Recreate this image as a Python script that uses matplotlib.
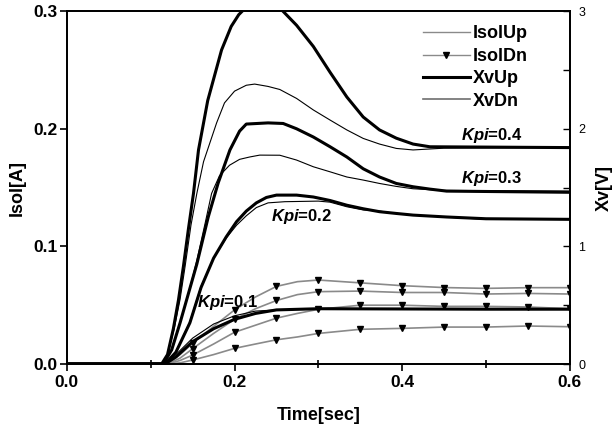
import matplotlib
matplotlib.use("Agg")
import matplotlib.pyplot as plt
from matplotlib.lines import Line2D
from matplotlib.ticker import FixedLocator
from matplotlib.font_manager import FontProperties

plt.rcParams['font.family'] = ['Liberation Sans', 'DejaVu Sans']
plt.rcParams['mathtext.fontset'] = 'custom'
plt.rcParams['mathtext.it'] = 'Liberation Sans:italic:bold'
plt.rcParams['mathtext.rm'] = 'Liberation Sans:bold'

# ---- data ----
# Kpi = 0.4
t_xv04 = [0, 0.113, 0.120, 0.127, 0.133, 0.139, 0.145, 0.151, 0.157, 0.168, 0.1845, 0.196, 0.205, 0.212,
          0.235, 0.255, 0.274, 0.294, 0.314, 0.334, 0.3535, 0.373, 0.393, 0.413, 0.433, 0.6]
v_xv04 = [0, 0, 0.008, 0.030, 0.054, 0.083, 0.115, 0.145, 0.182, 0.224, 0.267, 0.287, 0.297, 0.302,
          0.310, 0.302, 0.288, 0.270, 0.248, 0.227, 0.210, 0.199, 0.192, 0.187, 0.1847, 0.184]
t_is04 = [0, 0.114, 0.120, 0.128, 0.135, 0.141, 0.148, 0.155, 0.163, 0.1786, 0.188, 0.200, 0.214, 0.224,
          0.240, 0.254, 0.274, 0.294, 0.314, 0.334, 0.3535, 0.373, 0.393, 0.413, 0.450, 0.6]
v_is04 = [0, 0, 0.008, 0.030, 0.055, 0.083, 0.118, 0.145, 0.172, 0.205, 0.222, 0.232, 0.237, 0.238,
          0.236, 0.2334, 0.2258, 0.216, 0.2074, 0.199, 0.1918, 0.187, 0.1833, 0.182, 0.1835, 0.184]
# Kpi = 0.3
t_xv03 = [0, 0.115, 0.125, 0.135, 0.145, 0.155, 0.1686, 0.1805, 0.1945, 0.206, 0.214, 0.240, 0.258,
          0.274, 0.294, 0.314, 0.334, 0.3535, 0.373, 0.393, 0.413, 0.433, 0.453, 0.6]
v_xv03 = [0, 0, 0.012, 0.035, 0.060, 0.085, 0.125, 0.154, 0.182, 0.198, 0.204, 0.205, 0.2045,
          0.200, 0.193, 0.1847, 0.176, 0.166, 0.159, 0.1535, 0.1507, 0.1487, 0.147, 0.146]
t_is03 = [0, 0.115, 0.125, 0.135, 0.145, 0.155, 0.165, 0.1726, 0.182, 0.194, 0.206, 0.218, 0.230,
          0.254, 0.274, 0.294, 0.314, 0.334, 0.3535, 0.373, 0.393, 0.413, 0.450, 0.6]
v_is03 = [0, 0, 0.012, 0.035, 0.060, 0.088, 0.120, 0.145, 0.160, 0.169, 0.174, 0.176, 0.1776,
          0.1775, 0.1734, 0.1677, 0.1634, 0.159, 0.1564, 0.1535, 0.151, 0.149, 0.1476, 0.147]
# Kpi = 0.2
t_xv02 = [0, 0.117, 0.130, 0.1467, 0.160, 0.175, 0.190, 0.2024, 0.214, 0.226, 0.238, 0.250, 0.274,
          0.294, 0.314, 0.334, 0.3535, 0.373, 0.393, 0.413, 0.433, 0.453, 0.5, 0.6]
v_xv02 = [0, 0, 0.010, 0.035, 0.065, 0.090, 0.108, 0.121, 0.130, 0.137, 0.1416, 0.1436, 0.1436,
          0.142, 0.139, 0.135, 0.132, 0.1295, 0.128, 0.1266, 0.1258, 0.125, 0.1235, 0.123]
t_is02 = [0, 0.117, 0.130, 0.1467, 0.160, 0.175, 0.190, 0.2024, 0.214, 0.226, 0.240, 0.260, 0.300,
          0.314, 0.334, 0.3535, 0.373, 0.393, 0.413, 0.433, 0.450, 0.5, 0.6]
v_is02 = [0, 0, 0.010, 0.036, 0.066, 0.090, 0.107, 0.118, 0.126, 0.133, 0.137, 0.138, 0.1385,
          0.1376, 0.1337, 0.131, 0.130, 0.128, 0.1266, 0.1258, 0.125, 0.123, 0.123]
# Kpi = 0.1 (black)
t_xv01 = [0, 0.117, 0.130, 0.150, 0.175, 0.200, 0.225, 0.250, 0.300, 0.400, 0.500, 0.6]
v_xv01 = [0, 0, 0.006, 0.019, 0.030, 0.038, 0.043, 0.046, 0.047, 0.0468, 0.0466, 0.0466]
t_is01 = [0, 0.117, 0.130, 0.150, 0.175, 0.200, 0.225, 0.250, 0.300, 0.6]
v_is01 = [0, 0, 0.008, 0.022, 0.034, 0.041, 0.045, 0.046, 0.047, 0.047]

# grey curves with markers
t_grey = [0, 0.120, 0.135, 0.150, 0.175, 0.200, 0.225, 0.250, 0.275, 0.300, 0.350, 0.400, 0.450,
          0.500, 0.550, 0.600]
v_greyA = [0, 0, 0.008, 0.0176, 0.032, 0.046, 0.057, 0.066, 0.070, 0.0714, 0.069, 0.0666, 0.065,
           0.0643, 0.0649, 0.0649]
v_greyB = [0, 0, 0.005, 0.013, 0.026, 0.038, 0.047, 0.054, 0.059, 0.0615, 0.062, 0.0608, 0.0608,
           0.0595, 0.060, 0.0595]
v_greyC = [0, 0, 0.003, 0.0076, 0.017, 0.027, 0.033, 0.039, 0.043, 0.0465, 0.050, 0.050, 0.049,
           0.049, 0.0485, 0.047]
v_greyD = [0, 0, 0.001, 0.0034, 0.008, 0.0133, 0.017, 0.0206, 0.023, 0.026, 0.0295, 0.0303, 0.0314,
           0.0314, 0.0323, 0.0317]
grey_mark_idx = [3, 5, 7, 9, 10, 11, 12, 13, 14, 15]

legend_labels = ['IsolUp', 'IsolDn', 'XvUp', 'XvDn']
kpi_labels = ['0.4', '0.3', '0.2', '0.1']
kpi_pos = [(0.470, 0.1946), (0.470, 0.158), (0.243, 0.125), (0.155, 0.0527)]

# ---- figure ----
fig = plt.figure(figsize=(6.14, 4.29), dpi=100)
ax = fig.add_axes([0.109, 0.1515, 0.819, 0.8225])

grey = '#8a8a8a'
thin = 0.8
thick = 2.2

for v in [v_greyA, v_greyB, v_greyC, v_greyD]:
    ax.plot(t_grey, v, color=grey, lw=1.2, marker='v', markersize=4.5,
            markerfacecolor='black', markeredgecolor='black', markevery=grey_mark_idx, zorder=2)

for t, v in [(t_is04, v_is04), (t_is03, v_is03), (t_is02, v_is02), (t_is01, v_is01)]:
    ax.plot(t, v, color='black', lw=thin, zorder=3)
for t, v in [(t_xv04, v_xv04), (t_xv03, v_xv03), (t_xv02, v_xv02), (t_xv01, v_xv01)]:
    ax.plot(t, v, color='black', lw=thick, zorder=4)

ax.set_xlim(0, 0.6)
ax.set_ylim(0, 0.3)
ax.xaxis.set_major_locator(FixedLocator([0, 0.2, 0.4, 0.6]))
ax.xaxis.set_minor_locator(FixedLocator([0.1, 0.3, 0.5]))
ax.yaxis.set_major_locator(FixedLocator([0, 0.1, 0.2, 0.3]))
ax.set_xticklabels(['0.0', '0.2', '0.4', '0.6'])
ax.set_yticklabels(['0.0', '0.1', '0.2', '0.3'])
ax.tick_params(axis='x', which='major', direction='out', length=5, width=1.2, labelsize=12.5, pad=3)
ax.tick_params(axis='x', which='minor', direction='inout', length=6, width=1.2)
ax.tick_params(axis='y', which='major', direction='out', length=5, width=1.2, labelsize=12.5, pad=2)
for lab in ax.get_xticklabels() + ax.get_yticklabels():
    lab.set_fontweight('bold')
for s in ax.spines.values():
    s.set_linewidth(1.3)

ax.set_xlabel('Time[sec]', fontsize=13, fontweight='bold', labelpad=12)
ax.set_ylabel('Isol[A]', fontsize=13, fontweight='bold', labelpad=5)

ax2 = ax.twinx()
ax2.set_ylim(0, 3)
ax2.yaxis.set_major_locator(FixedLocator([0, 1, 2, 3]))
ax2.yaxis.set_minor_locator(FixedLocator([0.5, 1.5, 2.5]))
ax2.tick_params(axis='y', which='both', direction='in', length=5, width=1.0, labelsize=9, pad=6)
ax2.set_ylabel('Xv[V]', fontsize=13, fontweight='bold', labelpad=8)
for s in ax2.spines.values():
    s.set_linewidth(1.3)

for lab, (x, y) in zip(kpi_labels, kpi_pos):
    ax.text(x, y, r'$\mathit{Kpi}$=' + lab, fontsize=12, fontweight='bold',
            ha='left', va='center', zorder=6)

handles = [
    Line2D([], [], color=grey, lw=1.0),
    Line2D([], [], color=grey, lw=1.0, marker='v', markersize=4, markerfacecolor='black',
           markeredgecolor='black'),
    Line2D([], [], color='black', lw=thick),
    Line2D([], [], color='#6e6e6e', lw=1.2),
]
legfont = FontProperties(family='Liberation Sans', weight='bold', size=13)
leg = ax.legend(handles, legend_labels, loc='upper right', bbox_to_anchor=(0.93, 0.98),
                frameon=False, handlelength=2.6, handletextpad=0.15, labelspacing=0.3,
                numpoints=1, prop=legfont, borderaxespad=0)

fig.savefig('out.png', dpi=100)
